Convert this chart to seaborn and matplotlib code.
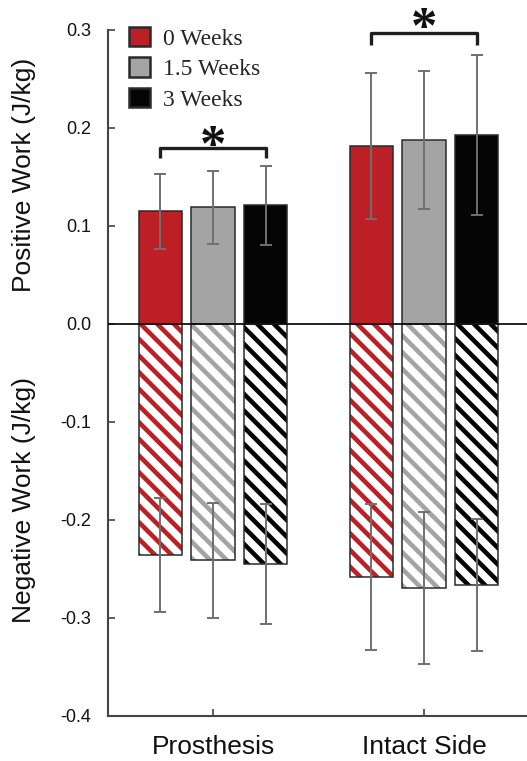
import numpy as np
import pandas as pd
import matplotlib
matplotlib.use("Agg")
import matplotlib.pyplot as plt
from matplotlib.patches import Patch
import seaborn as sns

# data (mean and SD, J/kg)
groups = ["Prosthesis", "Intact Side"]
weeks = ["0 Weeks", "1.5 Weeks", "3 Weeks"]
colors = ["#bd1f26", "#a4a4a4", "#050505"]

pos_prosthesis = [0.115, 0.119, 0.121]
pos_prosthesis_sd = [0.038, 0.0375, 0.040]
pos_intact = [0.182, 0.188, 0.193]
pos_intact_sd = [0.0745, 0.0705, 0.0815]

neg_prosthesis = [-0.236, -0.241, -0.245]
neg_prosthesis_sd = [0.058, 0.0585, 0.0615]
neg_intact = [-0.258, -0.269, -0.266]
neg_intact_sd = [0.0745, 0.0775, 0.0675]

yticks = [-0.4, -0.3, -0.2, -0.1, 0.0, 0.1, 0.2, 0.3]

df = pd.DataFrame({
    "side": np.repeat(groups, len(weeks)),
    "week": weeks * len(groups),
    "pos": pos_prosthesis + pos_intact,
    "pos_sd": pos_prosthesis_sd + pos_intact_sd,
    "neg": neg_prosthesis + neg_intact,
    "neg_sd": neg_prosthesis_sd + neg_intact_sd,
})

sns.set_style("ticks")
plt.rcParams["font.family"] = ["Liberation Sans", "DejaVu Sans"]
plt.rcParams["hatch.linewidth"] = 3.3

fig = plt.figure(figsize=(5.27, 7.61), dpi=100)
ax = fig.add_axes([108 / 527, 45 / 761, 419 / 527, 686 / 761])

pal = dict(zip(weeks, colors))
common = dict(data=df, x="side", hue="week", order=groups, hue_order=weeks,
              palette=pal, saturation=1, width=0.75, gap=0.18,
              errorbar=None, legend=False, ax=ax)

# positive work: solid bars
sns.barplot(y="pos", **common)
n_pos = len(ax.containers)
for cont in ax.containers[:n_pos]:
    for bar in cont:
        bar.set_edgecolor("#2a2a2a")
        bar.set_linewidth(1.1)

# negative work: striped bars, then outline on top
sns.barplot(y="neg", **common)
n_neg = len(ax.containers)
for cont, col in zip(ax.containers[n_pos:n_neg], colors):
    for bar in cont:
        bar.set_facecolor("white")
        bar.set_edgecolor(col)
        bar.set_hatch("\\\\")
        bar.set_linewidth(0)
sns.barplot(y="neg", **common)
for cont in ax.containers[n_neg:]:
    for bar in cont:
        bar.set_facecolor("none")
        bar.set_edgecolor("#2a2a2a")
        bar.set_linewidth(1.1)

# error bars at the bar centres
for conts, col, sd in [(ax.containers[:n_pos], "pos", "pos_sd"),
                       (ax.containers[n_pos:n_neg], "neg", "neg_sd")]:
    for cont, wk in zip(conts, weeks):
        sub = df[df.week == wk].set_index("side").loc[groups]
        xs = [b.get_x() + b.get_width() / 2 for b in cont]
        ax.errorbar(xs, sub[col], yerr=sub[sd], fmt="none", ecolor="#707070",
                    elinewidth=1.4, capsize=4, capthick=1.4, zorder=5)

ax.axhline(0, color="#111111", lw=1.3, zorder=4)

# significance brackets
for xc, y0, y1, ys in [(0, 0.169, 0.180, 0.180), (1, 0.2845, 0.297, 0.300)]:
    ax.plot([xc - 0.25, xc - 0.25, xc + 0.25, xc + 0.25], [y0, y1, y1, y0],
            color="#1e1e1e", lw=2.4, solid_capstyle="butt", zorder=6)
    ax.text(xc, ys, "*", ha="center", va="center", fontsize=38,
            fontweight="bold", family=["Liberation Serif"], color="#111111",
            clip_on=False)

ax.set_xlim(-0.498, 1.488)
ax.set_ylim(-0.4, 0.3)
ax.set_yticks(yticks)
ax.set_yticklabels([f"{v:.1f}" for v in yticks])
ax.set_xlabel("")
ax.set_ylabel("")
ax.tick_params(axis="y", direction="in", length=5, width=1.2, color="#444444",
               labelsize=13, pad=12, labelcolor="#111111")
ax.tick_params(axis="x", direction="in", length=5, width=1.2, color="#444444",
               labelsize=19, pad=14, labelcolor="#111111")
sns.despine(ax=ax)
for s in ["left", "bottom"]:
    ax.spines[s].set_color("#444444")
    ax.spines[s].set_linewidth(1.5)

fig.text(24 / 527, 1 - 175 / 761, "Positive Work (J/kg)", rotation=90,
         ha="center", va="center", fontsize=19, color="#111111")
fig.text(24 / 527, 1 - 500 / 761, "Negative Work (J/kg)", rotation=90,
         ha="center", va="center", fontsize=19, color="#111111")

handles = [Patch(facecolor=c, edgecolor="#2a2a2a", linewidth=1.8) for c in colors]
ax.legend(handles, weeks, loc="upper left", bbox_to_anchor=(0.05, 1.005),
          frameon=False, borderpad=0, borderaxespad=0, handlelength=0.9,
          handleheight=0.9, handletextpad=0.55, labelspacing=0.32,
          prop={"family": "Liberation Serif", "size": 17})

fig.savefig("out.png", dpi=100)
